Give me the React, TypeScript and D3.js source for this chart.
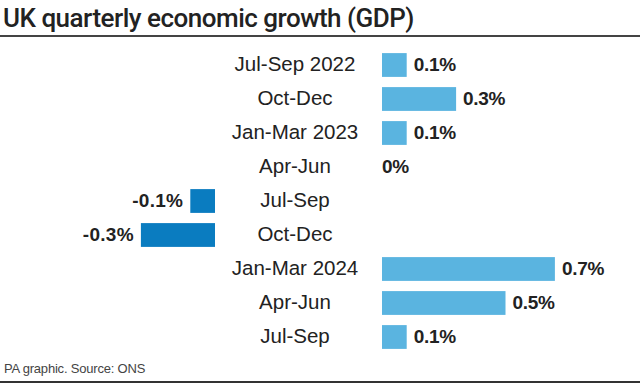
import * as d3 from 'd3'

const quarters = ['Jul-Sep 2022', 'Oct-Dec', 'Jan-Mar 2023', 'Apr-Jun', 'Jul-Sep', 'Oct-Dec', 'Jan-Mar 2024', 'Apr-Jun', 'Jul-Sep']
const growth = [0.1, 0.3, 0.1, 0, -0.1, -0.3, 0.7, 0.5, 0.1]
const valueLabels = ['0.1%', '0.3%', '0.1%', '0%', '-0.1%', '-0.3%', '0.7%', '0.5%', '0.1%']

const title = 'UK quarterly economic growth (GDP)'
const source = 'PA graphic. Source: ONS'

const width = 640
const height = 384
const font = 'Liberation Sans, Arial, sans-serif'
const ink = '#222'

export default function App() {
    const idx = quarters.map((_, i) => String(i))
    const y = d3.scaleBand().domain(idx).range([48, 354]).paddingInner(0.3).paddingOuter(0.15)

    // separate baselines for positive and negative bars
    const xPos = d3.scaleLinear().domain([0, 1]).range([382, 629])
    const xNeg = d3.scaleLinear().domain([-1, 0]).range([215 - 247, 215])
    const labelX = 295

    return (
        <svg width={width} height={height} style={{ position: 'absolute', left: 0, top: 0, background: '#fff' }}
            fontFamily={font}>
            <text x={3} y={27} fontSize={26} fontFamily="Roboto, sans-serif" fontWeight={500}
                letterSpacing={-0.5} fill={ink}>{title}</text>
            <line x1={0} x2={width} y1={36} y2={36} stroke="#444" strokeWidth={2} />

            {growth.map((v, i) => {
                const yy = y(String(i))!
                const mid = yy + y.bandwidth() / 2
                const pos = v >= 0
                const x0 = pos ? xPos(0) : xNeg(v)
                const w = pos ? xPos(v) - xPos(0) : xNeg(0) - xNeg(v)
                return (
                    <g key={i}>
                        <text x={labelX} y={mid} dy="0.3em" textAnchor="middle" fontSize={20.5}
                            fill={ink}>{quarters[i]}</text>
                        {w > 0 && <rect x={x0} y={yy} width={w} height={y.bandwidth()} fill={pos ? '#5ab4e0' : '#0a7cc0'} />}
                        <text
                            x={pos ? (v === 0 ? xPos(0) : xPos(v) + 7) : xNeg(v) - 7}
                            y={mid} dy="0.33em"
                            textAnchor={pos ? 'start' : 'end'}
                            fontSize={19} fontWeight="bold" letterSpacing={pos ? -0.3 : 0.3} fill={ink}>{valueLabels[i]}</text>
                    </g>
                )
            })}

            <text x={4} y={373} fontSize={13} letterSpacing={-0.2} fill="#444">{source}</text>
            <line x1={0} x2={width} y1={382} y2={382} stroke="#333" strokeWidth={2} />
        </svg>
    )
}
